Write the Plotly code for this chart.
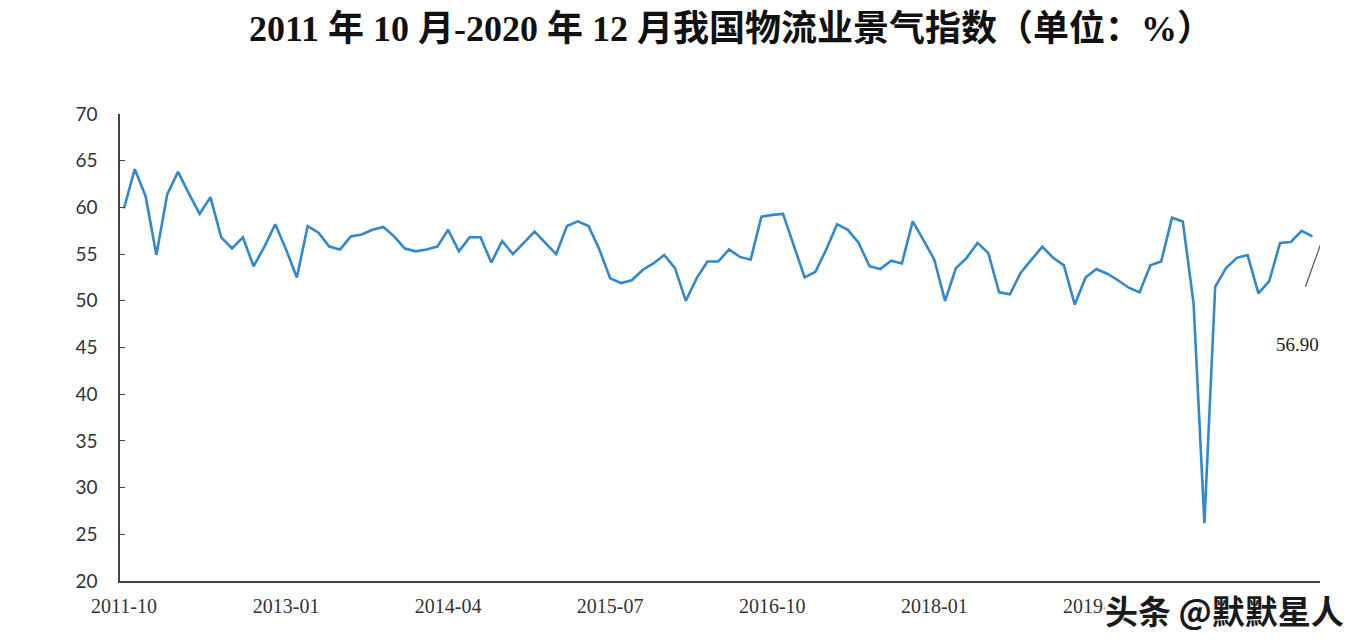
import plotly.graph_objects as go
import pandas as pd

# Monthly categories 2011-10 .. 2020-12
months = [d.strftime("%Y-%m") for d in pd.date_range("2011-10-01", "2020-12-01", freq="MS")]

# Logistics prosperity index (%)
lpi_values = [
    59.9, 64.1, 61.2, 54.9, 61.4, 63.8, 61.5, 59.3, 61.1, 56.8,
    55.6, 56.8, 53.7, 55.8, 58.2, 55.5, 52.5, 58.0, 57.3, 55.8,
    55.5, 56.9, 57.1, 57.6, 57.9, 56.9, 55.6, 55.3, 55.5, 55.8,
    57.6, 55.3, 56.8, 56.8, 54.1, 56.4, 55.0, 56.2, 57.4, 56.2,
    55.0, 58.0, 58.5, 58.0, 55.5, 52.4, 51.9, 52.2, 53.3, 54.0,
    54.9, 53.5, 50.0, 52.4, 54.2, 54.2, 55.5, 54.7, 54.4, 59.0,
    59.2, 59.3, 56.0, 52.5, 53.1, 55.5, 58.2, 57.6, 56.2, 53.7,
    53.4, 54.3, 54.0, 58.5, 56.5, 54.4, 50.0, 53.5, 54.6, 56.2,
    55.1, 50.9, 50.7, 53.0, 54.4, 55.8, 54.6, 53.8, 49.6, 52.5,
    53.4, 52.9, 52.2, 51.4, 50.9, 53.8, 54.2, 58.9, 58.5, 49.7,
    26.2, 51.5, 53.5, 54.6, 54.9, 50.8, 52.1, 56.2, 56.3, 57.5,
    56.9,
]

# tick labels every 15 months (the one under the watermark is not visible)
tick_labels = months[:91:15]
y_ticks = [20, 25, 30, 35, 40, 45, 50, 55, 60, 65, 70]
title_text = "2011 年 10 月-2020 年 12 月我国物流业景气指数（单位：%）"
last_label = "56.90"
watermark = "头条 @默默星人"

n = len(lpi_values)
xs = list(range(n))

fig = go.Figure()
fig.add_trace(go.Scatter(
    x=xs, y=lpi_values, mode="lines",
    line=dict(color="rgb(50,136,204)", width=2.6),
    hoverinfo="y",
))

# value label for the last point and its leader line
last_v = lpi_values[-1]
fig.add_annotation(
    x=n - 1, y=last_v, text=last_label, showarrow=False,
    xshift=-15, yshift=-108,
    font=dict(family="Liberation Serif", size=19, color="#222"),
)
fig.add_shape(
    type="line", xref="x", yref="y",
    x0=n - 1 - 0.65, y0=last_v - 5.4, x1=n - 1 + 0.85, y1=last_v - 0.55,
    line=dict(color="#555", width=1.2),
)

# watermark text
fig.add_annotation(
    xref="paper", yref="paper", x=1.021, y=-0.062, xanchor="right", yanchor="middle",
    text=watermark, showarrow=False,
    font=dict(family="Noto Sans CJK SC", size=33, color="#1a1a1a", weight="bold"),
    bgcolor="rgba(255,255,255,0.95)", borderpad=0,
)

fig.update_layout(
    width=1366, height=644,
    paper_bgcolor="white", plot_bgcolor="white",
    margin=dict(l=112, r=54, t=106, b=71),
    showlegend=False,
    title=dict(
        text=title_text, x=723 / 1366, xref="container", xanchor="center",
        y=1 - 20 / 644, yref="container", yanchor="middle",
        font=dict(family="Liberation Serif, Noto Sans CJK SC", size=36, color="#111", weight="bold"),
    ),
    xaxis=dict(
        range=[-0.37, 110.7],
        tickmode="array",
        tickvals=xs[:91:15],
        ticktext=tick_labels,
        showgrid=False, zeroline=False,
        showline=True, linecolor="#444", linewidth=1.5,
        ticks="",
        ticklabelstandoff=6,
        tickfont=dict(family="Liberation Serif", size=20, color="#333"),
    ),
    yaxis=dict(
        range=[20, 70],
        tickmode="array", tickvals=y_ticks,
        showgrid=False, zeroline=False,
        showline=True, linecolor="#444", linewidth=1.5,
        ticks="inside", ticklen=5, tickcolor="#444",
        ticklabelstandoff=17,
        tickfont=dict(family="Lato", size=19, color="#333"),
    ),
)

fig.write_html("out.html")
